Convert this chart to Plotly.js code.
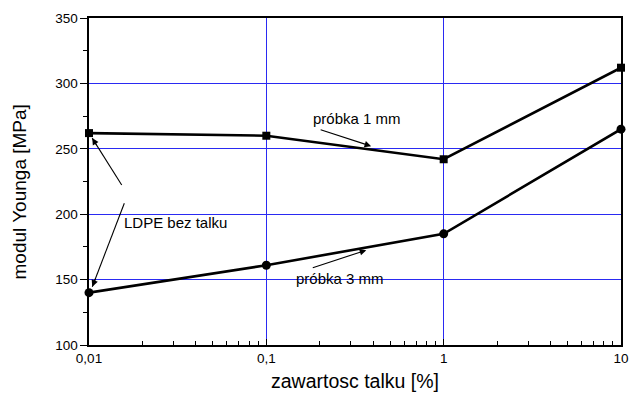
<!DOCTYPE html>
<html>
<head>
<meta charset="utf-8">
<script src="https://cdn.plot.ly/plotly-3.0.1.min.js"></script>
<style>
  html, body { margin: 0; padding: 0; background: #fff; }
  #chart { width: 633px; height: 394px; }
</style>
</head>
<body>
<div id="chart"></div>
<script>
// Talc content [%] (log scale) and Young's modulus [MPa] for two sample thicknesses
const talc = [0.01, 0.1, 1, 10];
const modulus1mm = [262, 260, 242, 312];
const modulus3mm = [140, 161, 185, 265];

const xTickVals = [0.01, 0.1, 1, 10];
const xTickText = ['0,01', '0,1', '1', '10'];
const yTickVals = [100, 150, 200, 250, 300, 350];

// minor log ticks 2..9 within each decade
const xMinor = [];
[0.01, 0.1, 1].forEach(d => { for (let k = 2; k <= 9; k++) xMinor.push(+(d * k).toPrecision(3)); });

const font = 'Liberation Sans, Arial, sans-serif';
const gridBlue = '#2a2af2';

const traces = [
  {
    x: talc, y: modulus1mm, mode: 'lines+markers', type: 'scatter',
    line: { color: '#000', width: 2.6 },
    marker: { symbol: 'square', size: 8, color: '#000' },
    cliponaxis: false, hoverinfo: 'skip'
  },
  {
    x: talc, y: modulus3mm, mode: 'lines+markers', type: 'scatter',
    line: { color: '#000', width: 2.6 },
    marker: { symbol: 'circle', size: 9, color: '#000' },
    cliponaxis: false, hoverinfo: 'skip'
  }
];

const arrowStyle = { showarrow: true, arrowhead: 2, arrowsize: 1.2, arrowwidth: 1.1, arrowcolor: '#000', axref: 'pixel', ayref: 'pixel', standoff: 0 };
const labelFont = { family: font, size: 15, color: '#000' };

const annotations = [
  // y-axis title, set slightly below the axis centre
  { xref: 'paper', yref: 'paper', x: -0.1297, y: 0.4694, xanchor: 'center', yanchor: 'middle',
    textangle: -90, showarrow: false, text: 'modul Younga [MPa]', font: { family: font, size: 19, color: '#000' } },
  // label for the unfilled samples; arrowheads just short of both 0,01 % points
  { x: Math.log10(0.0306), y: 194, text: 'LDPE bez talku', showarrow: false, font: labelFont },
  Object.assign({ x: Math.log10(0.01042), y: 258.2, text: '', ax: 5.3, ay: 8.5 }, arrowStyle),
  Object.assign({ x: Math.log10(0.01044), y: 144.6, text: '', ax: 3.6, ay: -9.3 }, arrowStyle),
  // series labels
  { x: Math.log10(0.323), y: 273.5, text: 'próbka 1 mm', showarrow: false, font: labelFont },
  Object.assign({ x: Math.log10(0.39), y: 252, text: '', ax: -52, ay: -17 }, arrowStyle),
  { x: Math.log10(0.259), y: 150.5, text: 'próbka 3 mm', showarrow: false, font: labelFont },
  Object.assign({ x: Math.log10(0.366), y: 172.5, text: '', ax: -55, ay: 18 }, arrowStyle)
];

// leader lines from the "LDPE bez talku" label to its two arrowheads
const shapes = [
  { type: 'line', xref: 'paper', yref: 'paper', x0: 0.0615, y0: 0.4893, x1: 0.0060, y1: 0.6327, line: { color: '#000', width: 1.1 } },
  { type: 'line', xref: 'paper', yref: 'paper', x0: 0.0664, y0: 0.4333, x1: 0.0062, y1: 0.1783, line: { color: '#000', width: 1.1 } }
];

const layout = {
  width: 633, height: 394,
  margin: { l: 89, r: 12, t: 18, b: 49 },
  paper_bgcolor: '#fff', plot_bgcolor: '#fff',
  showlegend: false,
  font: { family: font, size: 13.5, color: '#000' },
  xaxis: {
    type: 'log', range: [-2, 1],
    tickmode: 'array', tickvals: xTickVals, ticktext: xTickText,
    ticks: 'inside', ticklen: 6, tickcolor: '#000', tickwidth: 1,
    tickfont: { family: font, size: 13.5, color: '#000' },
    showgrid: true, gridcolor: gridBlue, gridwidth: 1,
    minor: { tickmode: 'array', tickvals: xMinor, ticks: 'inside', ticklen: 4, tickcolor: '#000', tickwidth: 1, showgrid: false },
    showline: true, linecolor: '#000', linewidth: 1.6, mirror: true,
    zeroline: false,
    title: { text: 'zawartosc talku [%]', font: { family: font, size: 19.5, color: '#000' }, standoff: 9 }
  },
  yaxis: {
    range: [100, 350],
    tickmode: 'array', tickvals: yTickVals,
    ticks: 'outside', ticklen: 7, tickcolor: '#000', tickwidth: 1,
    tickfont: { family: font, size: 13.5, color: '#000' },
    showgrid: true, gridcolor: gridBlue, gridwidth: 1,
    minor: { dtick: 25, ticks: 'outside', ticklen: 4, tickcolor: '#000', tickwidth: 1, showgrid: false },
    showline: true, linecolor: '#000', linewidth: 1.6, mirror: true,
    zeroline: false
  },
  shapes: shapes,
  annotations: annotations
};

Plotly.newPlot('chart', traces, layout, { staticPlot: true, displayModeBar: false });
</script>
</body>
</html>
